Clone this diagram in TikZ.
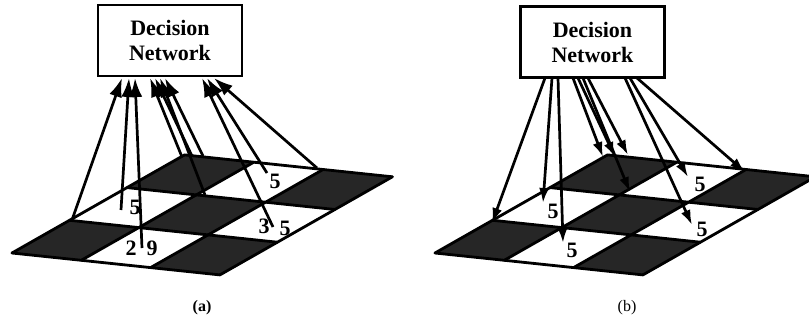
\documentclass[tikz,border=0pt]{standalone}
\usepackage{fontspec}
\setmainfont{Liberation Serif}
\usetikzlibrary{arrows.meta}
\newcommand{\checkgrid}[1]{%
  \begin{scope}[shift={(#1pt,-253pt)}, x={(69.3pt,-7.3pt)}, y={(57.5pt,32.7pt)}]
    \foreach \i/\j in {0/0,2/0,1/1,0/2,2/2}
      \fill[darkcell] (\i,\j) -- ++(1,0) -- ++(0,1) -- ++(-1,0) -- cycle;
    \foreach \k in {0,1,2,3} {
      \draw[gridline] (0,\k) -- (3,\k);
      \draw[gridline] (\k,0) -- (\k,3);
    }
  \end{scope}}
\begin{document}
\begin{tikzpicture}[x=1pt,y=-1pt,
  gridline/.style={line width=2.8pt, line cap=round, line join=round},
  darkcell/.style={fill=black!85},
  dnbox/.style={draw, line width=2.8pt, minimum width=144pt, minimum height=71pt,
    align=center, inner sep=0pt, font=\fontsize{22}{25}\selectfont\bfseries},
  lbl/.style={inner sep=0pt, font=\fontsize{22}{22}\selectfont\bfseries},
  captxt/.style={inner sep=0pt, font=\fontsize{16}{16}\selectfont},
  upar/.style={line width=2.7pt, -{Latex[length=19pt,width=13pt]}},
  dnar/.style={line width=2.7pt, -{Latex[length=15pt,width=10pt]}}]
\useasboundingbox (0,0) rectangle (809,324);
\fill[white] (0,0) rectangle (809,324);

% ---------- panel (a) ----------
\checkgrid{12}
\node[dnbox] (boxa) at (170,40.5) {Decision\\Network};
\coordinate (a1) at (72,220);
\coordinate (a2) at (121,210);
\coordinate (a3) at (142,248);
\coordinate (a4) at (182,157);
\coordinate (a5) at (192,156);
\coordinate (a6) at (203,156);
\coordinate (a7) at (205,195);
\coordinate (a8) at (273,227);
\coordinate (a9) at (267,173);
\coordinate (a10) at (317,168);
\coordinate (ta1) at (122,78);
\coordinate (ta2) at (129,78);
\coordinate (ta3) at (135,78);
\coordinate (ta4) at (150,78);
\coordinate (ta5) at (155,78);
\coordinate (ta6) at (160,78);
\coordinate (ta7) at (165,78);
\coordinate (ta8) at (202,78);
\coordinate (ta9) at (207,78);
\coordinate (ta10) at (214,78);
\draw[upar] (a1) -- (ta1);
\draw[upar] (a2) -- (ta2);
\draw[upar] (a3) -- (ta3);
\draw[upar] (a4) -- (ta4);
\draw[upar] (a5) -- (ta5);
\draw[upar] (a7) -- (ta6);
\draw[upar] (a6) -- (ta7);
\draw[upar] (a8) -- (ta8);
\draw[upar] (a9) -- (ta9);
\draw[upar] (a10) -- (ta10);
\node[lbl] (la1) at (135,207) {5};
\node[lbl] (la2) at (131,248) {2};
\node[lbl] (la3) at (152,248) {9};
\node[lbl] (la4) at (275,181) {5};
\node[lbl] (la5) at (264,226) {3};
\node[lbl] (la6) at (285,228) {5};
\node[captxt, font=\fontsize{16}{16}\selectfont\bfseries] (capa) at (202,308) {(a)};

% ---------- panel (b) ----------
\checkgrid{435}
\node[dnbox] (boxb) at (592.5,42) {Decision\\Network};
\coordinate (sb1) at (545,78);
\coordinate (sb2) at (552,78);
\coordinate (sb3) at (558,78);
\coordinate (sb4) at (573,78);
\coordinate (sb5) at (578,78);
\coordinate (sb6) at (583,78);
\coordinate (sb7) at (588,78);
\coordinate (sb8) at (625,78);
\coordinate (sb9) at (630,78);
\coordinate (sb10) at (637,78);
\coordinate (b1) at (492,223);
\coordinate (b2) at (543,203);
\coordinate (b3) at (563,243);
\coordinate (b4) at (603,157);
\coordinate (b5) at (615,157);
\coordinate (b6) at (630,192);
\coordinate (b7) at (628,155);
\coordinate (b8) at (692,225);
\coordinate (b9) at (688,177);
\coordinate (b10) at (745,172);
\draw[dnar] (sb1) -- (b1);
\draw[dnar] (sb2) -- (b2);
\draw[dnar] (sb3) -- (b3);
\draw[dnar] (sb4) -- (b4);
\draw[dnar] (sb5) -- (b5);
\draw[dnar] (sb6) -- (b6);
\draw[dnar] (sb7) -- (b7);
\draw[dnar] (sb8) -- (b8);
\draw[dnar] (sb9) -- (b9);
\draw[dnar] (sb10) -- (b10);
\node[lbl] (lb1) at (553,211) {5};
\node[lbl] (lb2) at (572,250) {5};
\node[lbl] (lb3) at (700,184) {5};
\node[lbl] (lb4) at (702,229) {5};
\node[captxt] (capb) at (627,308) {(b)};
\end{tikzpicture}
\end{document}
